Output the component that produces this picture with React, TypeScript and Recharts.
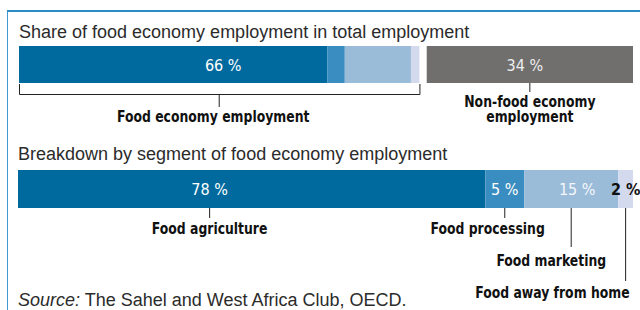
import React from 'react';
import { BarChart, Bar, XAxis, YAxis, LabelList, ReferenceArea } from 'recharts';

// top row: share of food economy in total employment
const topGroups = ['Food economy employment', 'Non-food economy employment'];
const topShares = [66, 34];
const topShareLabels = ['66 %', '34 %'];
// the food part of the top bar is split by segment (widths)
const topFoodParts = [50.8, 2.9, 10.9, 1.4];

// bottom row: breakdown by segment
const segments = ['Food agriculture', 'Food processing', 'Food marketing', 'Food away from home'];
const segmentShares = [76, 6.3, 15.3, 2.4];
const segmentLabels = ['78 %', '5 %', '15 %', '2 %'];

const SEG_COLORS = ['#006a9e', '#3a8dc0', '#9bbcd8', '#d3daee'];
const GRAY = '#706f6e';
const GAP = 1.2;
const COND = "'DejaVu Sans Condensed','Liberation Sans Narrow',sans-serif";
const SANS = "'Liberation Sans', Arial, Helvetica, sans-serif";
const KEYS = ['agri', 'proc', 'mark', 'away'];

const topRow: any = { name: 'total', gap: GAP, nonfood: topShares[1] };
KEYS.forEach((k, i) => (topRow[k] = topFoodParts[i]));
const topData = [topRow];

const bottomRow: any = { name: 'food' };
KEYS.forEach((k, i) => (bottomRow[k] = segmentShares[i]));
const bottomData = [bottomRow];

const topTotal = topShares[0] + topShares[1] + GAP;
const bottomTotal = segmentShares.reduce((a, b) => a + b, 0);

// where each bottom label goes, relative to its segment
const bottomLabelPos = [
  { frac: 0.41, inColor: '#ffffff', tick: 10, base: 26, anchor: 'middle', dx: 0 },
  { frac: 0.5, inColor: '#ffffff', tick: 10, base: 26, anchor: 'end', dx: 40 },
  { frac: 0.5, inColor: '#f4f7fb', tick: 39, base: 58, anchor: 'end', dx: 35 },
  { frac: 0.5, inColor: '#111111', tick: 73, base: 90, anchor: 'end', dx: 4 },
];

function box(props: any) {
  const vb = props.viewBox && props.viewBox.width != null ? props.viewBox : props;
  return { x: Number(vb.x), y: Number(vb.y), w: Number(vb.width), h: Number(vb.height) };
}

// bold, narrowed label text
function CondText({ x, y, anchor = 'middle', children }: any) {
  return (
    <g transform={`translate(${x},${y}) scale(0.92,1)`}>
      <text x={0} y={0} textAnchor={anchor} fill="#111" fontFamily={COND} fontSize={15} fontWeight={700}>
        {children}
      </text>
    </g>
  );
}

const bottomLabel = (i: number) => (props: any) => {
  const { x, y, w, h } = box(props);
  const p = bottomLabelPos[i];
  const cx = x + w * p.frac;
  const bot = y + h;
  const inX = i === 2 ? cx + 6 : cx;
  return (
    <g>
      <text x={inX} y={y + h / 2 + 6} textAnchor="middle" fill={p.inColor}
        fontFamily={COND} fontSize={16} fontWeight={i === 3 ? 700 : 400}>{segmentLabels[i]}</text>
      <line x1={cx} x2={cx} y1={bot} y2={bot + p.tick} stroke="#222" strokeWidth={1} />
      <CondText x={cx + p.dx} y={bot + p.base} anchor={p.anchor}>{segments[i]}</CondText>
    </g>
  );
};

// share label for the food group, centred on the whole food part of the top bar
const foodShareLabel = (props: any) => {
  const { x, y, w, h } = box(props);
  const groupW = (w * topShares[0]) / topFoodParts[0];
  return (
    <text x={x + groupW / 2 + 4} y={y + h / 2 + 6} textAnchor="middle" fill="#ffffff"
      fontFamily={COND} fontSize={16}>{topShareLabels[0]}</text>
  );
};

const nonFoodLabel = (props: any) => {
  const { x, y, w, h } = box(props);
  const cx = x + w / 2;
  const bot = y + h;
  const words = topGroups[1].split(' ');
  return (
    <g>
      <text x={cx - 5} y={y + h / 2 + 6} textAnchor="middle" fill="#eeeeee"
        fontFamily={COND} fontSize={16}>{topShareLabels[1]}</text>
      <line x1={cx} x2={cx} y1={bot} y2={bot + 9} stroke="#222" strokeWidth={1} />
      <CondText x={cx} y={bot + 24}>{words.slice(0, 2).join(' ')}</CondText>
      <CondText x={cx} y={bot + 39}>{words.slice(2).join(' ')}</CondText>
    </g>
  );
};

const FoodBracket = (props: any) => {
  const { x, y, width, height } = props;
  const bot = y + height;
  const cx = x + width / 2;
  return (
    <g>
      <path d={`M${x + 0.5},${bot + 1} V${bot + 11.5} H${x + width + 0.5} V${bot + 1}`}
        fill="none" stroke="#222" strokeWidth={1} />
      <line x1={cx} x2={cx} y1={bot + 11.5} y2={bot + 24} stroke="#222" strokeWidth={1} />
      <CondText x={cx - 6} y={bot + 39}>{topGroups[0]}</CondText>
    </g>
  );
};

export default function App() {
  return (
    <div style={{ position: 'absolute', left: 0, top: 0, width: 640, height: 310, overflow: 'hidden', background: '#fff' }}>
      <svg width={640} height={310} style={{ position: 'absolute', left: 0, top: 0 }}>
        <line x1={7.5} x2={7.5} y1={10} y2={310} stroke="#3f9ad3" strokeWidth={1} />
        <line x1={7} x2={640} y1={11} y2={11} stroke="#2a8cc4" strokeWidth={2} />
        <text x={19} y={38} fill="#2b2b2b" fontFamily={SANS} fontSize={18}>
          Share of food economy employment in total employment
        </text>
        <text x={18} y={160} fill="#2b2b2b" fontFamily={SANS} fontSize={18}>
          Breakdown by segment of food economy employment
        </text>
        <text x={18} y={306} fill="#2b2b2b" fontFamily={SANS} fontSize={18}>
          <tspan fontStyle="italic">Source:</tspan> The Sahel and West Africa Club, OECD.
        </text>
      </svg>

      <div style={{ position: 'absolute', left: 0, top: 0 }}>
        <BarChart width={640} height={130} data={topData} layout="vertical" barCategoryGap={0}
          margin={{ top: 46, right: 7, left: 19, bottom: 47 }}>
          <XAxis type="number" hide domain={[0, topTotal]} />
          <YAxis type="category" dataKey="name" hide />
          {KEYS.map((k, i) => (
            <Bar key={k} dataKey={k} stackId="a" fill={SEG_COLORS[i]} isAnimationActive={false}>
              {i === 0 && <LabelList dataKey={k} content={foodShareLabel} />}
            </Bar>
          ))}
          <Bar dataKey="gap" stackId="a" fill="transparent" isAnimationActive={false} />
          <Bar dataKey="nonfood" stackId="a" fill={GRAY} isAnimationActive={false}>
            <LabelList dataKey="nonfood" content={nonFoodLabel} />
          </Bar>
          <ReferenceArea x1={0} x2={topShares[0]} ifOverflow="visible" shape={FoodBracket} />
        </BarChart>
      </div>

      <div style={{ position: 'absolute', left: 0, top: 140 }}>
        <BarChart width={640} height={170} data={bottomData} layout="vertical" barCategoryGap={0}
          margin={{ top: 30, right: 7, left: 18, bottom: 102 }}>
          <XAxis type="number" hide domain={[0, bottomTotal]} />
          <YAxis type="category" dataKey="name" hide />
          {KEYS.map((k, i) => (
            <Bar key={k} dataKey={k} stackId="a" fill={SEG_COLORS[i]} isAnimationActive={false}>
              <LabelList dataKey={k} content={bottomLabel(i)} />
            </Bar>
          ))}
        </BarChart>
      </div>
    </div>
  );
}
